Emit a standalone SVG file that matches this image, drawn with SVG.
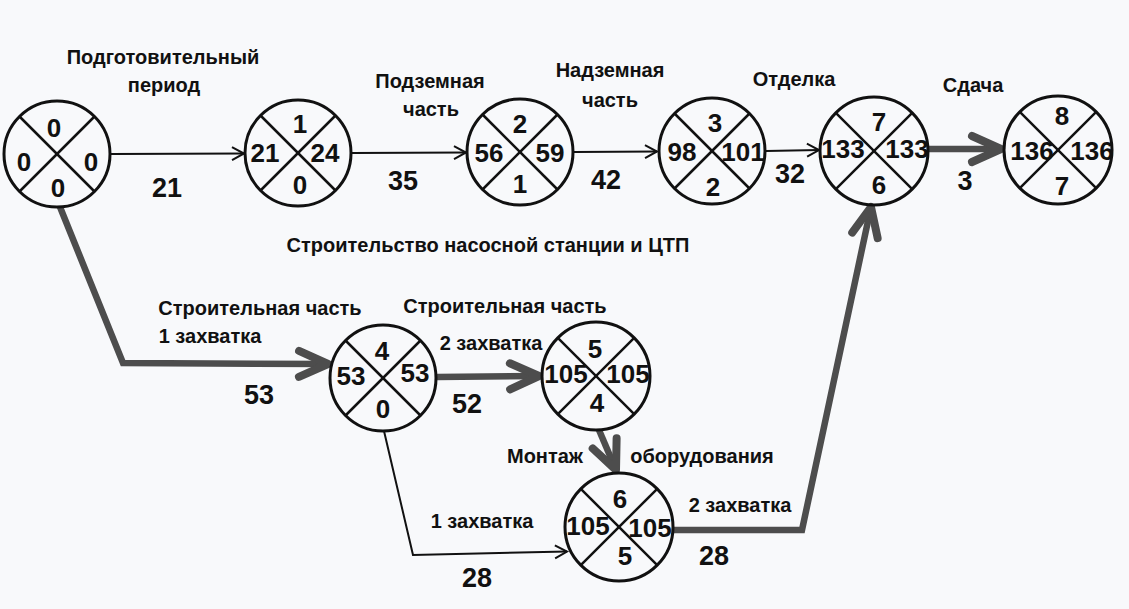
<svg xmlns="http://www.w3.org/2000/svg" width="1129" height="609" viewBox="0 0 1129 609">
<defs>
<style>
.c{fill:none;stroke:#111;stroke-width:3}
.d{stroke:#111;stroke-width:2.5}
.n{font-family:"Liberation Sans",Arial,sans-serif;font-weight:bold;font-size:26px;fill:#111;text-anchor:middle}
.e{font-family:"Liberation Sans",Arial,sans-serif;font-weight:bold;font-size:27px;fill:#111;text-anchor:middle}
.l{font-family:"Liberation Sans",Arial,sans-serif;font-weight:bold;font-size:20px;fill:#111;text-anchor:middle}
.t{fill:none;stroke:#111;stroke-width:2}
.b{fill:none;stroke:#4d4d4d;stroke-width:6.5;stroke-linejoin:miter}
</style>
<marker id="thin" markerUnits="userSpaceOnUse" markerWidth="18" markerHeight="16" viewBox="-15 -8 18 16" refX="0" refY="0" orient="auto">
<path d="M-12,-6.5 L0,0 L-12,6.5" fill="none" stroke="#111" stroke-width="2"/>
</marker>
<marker id="bold" markerUnits="userSpaceOnUse" markerWidth="44" markerHeight="40" viewBox="-38 -20 44 40" refX="0" refY="0" orient="auto">
<path d="M-29,-13 L0,0 L-29,13" fill="none" stroke="#4d4d4d" stroke-width="8" stroke-linecap="round" stroke-linejoin="round"/>
</marker>
</defs>
<rect x="0" y="0" width="1129" height="609" fill="#f8f9fb"/>

<g id="connectors">
<line class="t" x1="111" y1="154" x2="244" y2="153.5" marker-end="url(#thin)"/>
<line class="t" x1="352" y1="153" x2="466" y2="152.5" marker-end="url(#thin)"/>
<line class="t" x1="574" y1="152" x2="657" y2="151.5" marker-end="url(#thin)"/>
<line class="t" x1="766" y1="151" x2="819" y2="150" marker-end="url(#thin)"/>
<line class="b" x1="929" y1="149" x2="1001" y2="149" marker-end="url(#bold)"/>
<polyline class="b" points="60,207 123,363 328,364" marker-end="url(#bold)"/>
<line class="b" x1="437" y1="377" x2="539" y2="376" marker-end="url(#bold)"/>
<line class="b" x1="599" y1="430" x2="616" y2="470" marker-end="url(#bold)"/>
<polyline class="t" points="384,431 413,555 567,551.5" marker-end="url(#thin)"/>
<polyline class="b" points="674,530 802,530 871,207" marker-end="url(#bold)"/>
</g>

<g id="labels">
<text class="l" x="163" y="64">Подготовительный</text>
<text class="l" x="164" y="92">период</text>
<text class="l" x="430" y="88">Подземная</text>
<text class="l" x="431" y="116">часть</text>
<text class="l" x="610" y="77">Надземная</text>
<text class="l" x="610" y="107">часть</text>
<text class="l" x="794" y="86">Отделка</text>
<text class="l" x="973" y="92">Сдача</text>
<text class="l" x="488" y="252">Строительство насосной станции и ЦТП</text>
<text class="l" x="260" y="315">Строительная часть</text>
<text class="l" x="210" y="343">1 захватка</text>
<text class="l" x="505" y="313">Строительная часть</text>
<text class="l" x="491" y="350">2 захватка</text>
<text class="l" x="545" y="463">Монтаж</text>
<text class="l" x="702" y="463">оборудования</text>
<text class="l" x="482" y="528">1 захватка</text>
<text class="l" x="740" y="512">2 захватка</text>
<text class="e" x="167" y="197">21</text>
<text class="e" x="403" y="190">35</text>
<text class="e" x="606" y="189">42</text>
<text class="e" x="790" y="183">32</text>
<text class="e" x="965" y="190">3</text>
<text class="e" x="259" y="404">53</text>
<text class="e" x="467" y="413">52</text>
<text class="e" x="477" y="587">28</text>
<text class="e" x="714" y="565">28</text>
</g>

<g id="node0">
<circle class="c" cx="57" cy="154" r="53"/>
<line class="d" x1="19.5" y1="116.5" x2="94.5" y2="191.5"/>
<line class="d" x1="94.5" y1="116.5" x2="19.5" y2="191.5"/>
<text class="n" x="54" y="137">0</text>
<text class="n" x="24" y="171">0</text>
<text class="n" x="91" y="171">0</text>
<text class="n" x="58" y="197">0</text>
</g>
<g id="node1">
<circle class="c" cx="298" cy="153" r="53"/>
<line class="d" x1="260.5" y1="115.5" x2="335.5" y2="190.5"/>
<line class="d" x1="335.5" y1="115.5" x2="260.5" y2="190.5"/>
<text class="n" x="300" y="133">1</text>
<text class="n" x="265" y="162">21</text>
<text class="n" x="325" y="162">24</text>
<text class="n" x="300" y="194">0</text>
</g>
<g id="node2">
<circle class="c" cx="520" cy="152" r="53"/>
<line class="d" x1="482.5" y1="114.5" x2="557.5" y2="189.5"/>
<line class="d" x1="557.5" y1="114.5" x2="482.5" y2="189.5"/>
<text class="n" x="520" y="133">2</text>
<text class="n" x="489" y="162">56</text>
<text class="n" x="550" y="162">59</text>
<text class="n" x="520" y="193">1</text>
</g>
<g id="node3">
<circle class="c" cx="712" cy="151" r="53"/>
<line class="d" x1="674.5" y1="113.5" x2="749.5" y2="188.5"/>
<line class="d" x1="749.5" y1="113.5" x2="674.5" y2="188.5"/>
<text class="n" x="715" y="132">3</text>
<text class="n" x="682" y="161">98</text>
<text class="n" x="743" y="161">101</text>
<text class="n" x="713" y="196">2</text>
</g>
<g id="node4">
<circle class="c" cx="874" cy="151" r="54"/>
<line class="d" x1="835.8" y1="112.8" x2="912.2" y2="189.2"/>
<line class="d" x1="912.2" y1="112.8" x2="835.8" y2="189.2"/>
<text class="n" x="879" y="131">7</text>
<text class="n" x="843" y="158">133</text>
<text class="n" x="907" y="158">133</text>
<text class="n" x="879" y="194">6</text>
</g>
<g id="node5">
<circle class="c" cx="1058" cy="150" r="54"/>
<line class="d" x1="1019.8" y1="111.8" x2="1096.2" y2="188.2"/>
<line class="d" x1="1096.2" y1="111.8" x2="1019.8" y2="188.2"/>
<text class="n" x="1062" y="125">8</text>
<text class="n" x="1032" y="160">136</text>
<text class="n" x="1092" y="160">136</text>
<text class="n" x="1062" y="195">7</text>
</g>
<g id="node6">
<circle class="c" cx="383" cy="378" r="53"/>
<line class="d" x1="345.5" y1="340.5" x2="420.5" y2="415.5"/>
<line class="d" x1="420.5" y1="340.5" x2="345.5" y2="415.5"/>
<text class="n" x="382" y="360">4</text>
<text class="n" x="351" y="385">53</text>
<text class="n" x="415" y="382">53</text>
<text class="n" x="383" y="418">0</text>
</g>
<g id="node7">
<circle class="c" cx="596" cy="376" r="54"/>
<line class="d" x1="557.8" y1="337.8" x2="634.2" y2="414.2"/>
<line class="d" x1="634.2" y1="337.8" x2="557.8" y2="414.2"/>
<text class="n" x="595" y="358">5</text>
<text class="n" x="566" y="383">105</text>
<text class="n" x="628" y="383">105</text>
<text class="n" x="597" y="412">4</text>
</g>
<g id="node8">
<circle class="c" cx="619" cy="527" r="54"/>
<line class="d" x1="580.8" y1="488.8" x2="657.2" y2="565.2"/>
<line class="d" x1="657.2" y1="488.8" x2="580.8" y2="565.2"/>
<text class="n" x="620" y="508">6</text>
<text class="n" x="588" y="535">105</text>
<text class="n" x="650" y="537">105</text>
<text class="n" x="625" y="565">5</text>
</g>
</svg>
